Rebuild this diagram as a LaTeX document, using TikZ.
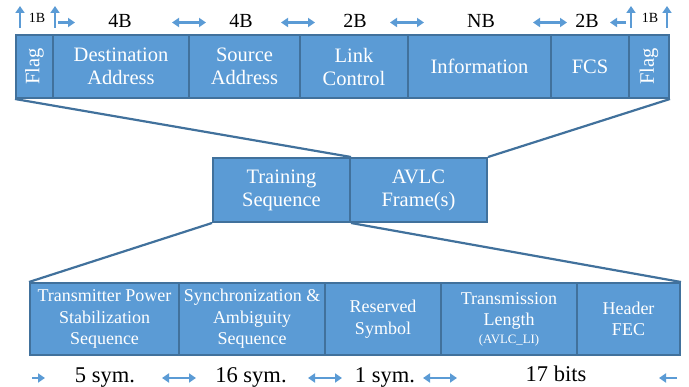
\documentclass[tikz,border=0pt]{standalone}
\usepackage{fontspec}
\setmainfont{Liberation Serif}
\usepackage{graphicx}
\usepackage{tikz}
\usetikzlibrary{arrows.meta}
\definecolor{fieldblue}{HTML}{5B9BD5}
\definecolor{edgeblue}{HTML}{41719C}
\tikzset{>=stealth}
\tikzset{zoomline/.style={draw=edgeblue, line width=2.2pt}}

\begin{document}
\begin{tikzpicture}[x=1pt, y=-1pt,
            field/.style={draw=edgeblue, fill=fieldblue, line width=2pt,
            text=white, align=center, inner sep=0pt, minimum width=#1},
            toprow/.style={minimum height=63pt, font=\fontsize{20.5}{23}\selectfont},
            midrow/.style={minimum height=64pt, font=\fontsize{20.5}{23}\selectfont},
            lowrow/.style={minimum height=72pt, font=\fontsize{18}{21.5}\selectfont},
            size/.style={font=\fontsize{20}{22}\selectfont, inner sep=0pt},
            smallsize/.style={font=\fontsize{14}{16}\selectfont, inner sep=0pt},
            sym/.style={font=\fontsize{22.5}{24}\selectfont, inner sep=0pt, anchor=base},
            dimarrow/.style={fieldblue, line width=2.2pt,
            >={Triangle[width=9pt,length=7pt]}}]
            \useasboundingbox (0,0) rectangle (689,387);
            %% AVLC frame
            \node[field=37pt, toprow] (flagL) at (34.5,66.5) {\rotatebox{90}{Flag}};
            \node[field=136pt, toprow] (dest) at (121,66.5) {Destination\\Address};
            \node[field=111pt, toprow] (src) at (244.5,66.5) {Source\\Address};
            \node[field=108pt, toprow] (lctl) at (354,66.5) {Link\\Control};
            \node[field=143pt, toprow] (info) at (479.5,66.5) {Information};
            \node[field=78pt, toprow] (fcs) at (590,66.5) {FCS};
            \node[field=40pt, toprow] (flagR) at (649,66.5) {\rotatebox{90}{Flag}};
            %% Burst
            \node[field=137pt, midrow] (train) at (281.5,190) {Training\\Sequence};
            \node[field=137pt, midrow] (avlc) at (418.5,190) {AVLC\\Frame(s)};
            %% Training sequence
            \node[field=149pt, lowrow] (tps) at (104.5,319) {Transmitter Power\\Stabilization\\Sequence};
            \node[field=146pt, lowrow] (sync) at (252,319) {Synchronization \&\\Ambiguity\\Sequence};
            \node[field=116pt, lowrow] (rsv) at (383,319) {Reserved\\Symbol};
            \node[field=136pt, lowrow] (tlen) at (509,319) {Transmission\\Length\\[-4pt]{\fontsize{12.8}{14}\selectfont (AVLC\_LI)}};
            \node[field=103pt, lowrow] (fec) at (628.5,319) {Header\\FEC};
            %% Expansion lines
            \draw[zoomline] (flagL.south west) -- (train.north east);
            \draw[zoomline] (flagR.south east) -- (avlc.north east);
            \draw[zoomline] (train.south west) -- (tps.north west);
            \draw[zoomline] (train.south east) -- (fec.north east);
            %% Field sizes (bytes)
            \node[smallsize] (s1) at (37,17.5) {1B};
            \node[size] (s2) at (120,21) {4B};
            \node[size] (s3) at (241,21) {4B};
            \node[size] (s4) at (355,21) {2B};
            \node[size] (s5) at (481,21) {NB};
            \node[size] (s6) at (587,21) {2B};
            \node[smallsize] (s7) at (650,17.5) {1B};
            \coordinate (u1) at (20,28);
            \coordinate (u2) at (55,28);
            \coordinate (u3) at (631,28);
            \coordinate (u4) at (667,28);
            \foreach \u in {u1,u2,u3,u4}
                \draw[dimarrow, ->] (\u) -- ++(0,-22);
            \coordinate (h1) at (58,22.5);
            \coordinate (h2) at (172,22.5);
            \coordinate (h3) at (281,22.5);
            \coordinate (h4) at (390,22.5);
            \coordinate (h5) at (533,22.5);
            \coordinate (h6) at (626,22.5);
            \draw[dimarrow, ->] (h1) -- ++(17,0);
            \foreach \h in {h2,h3,h4,h5}
                \draw[dimarrow, <->] (\h) -- ++(34,0);
            \draw[dimarrow, ->] (h6) -- ++(-16,0);
            %% Field sizes (symbols)
            \node[sym] (b1) at (105,383) {5 sym.};
            \node[sym] (b2) at (251,383) {16 sym.};
            \node[sym] (b3) at (385,383) {1 sym.};
            \node[sym] (b4) at (556,382) {17 bits};
            \coordinate (l1) at (32,378);
            \coordinate (l2) at (162,378);
            \coordinate (l3) at (308,378);
            \coordinate (l4) at (423,378);
            \coordinate (l5) at (677,378);
            \draw[dimarrow, ->] (l1) -- ++(13,0);
            \foreach \l in {l2,l3,l4}
                \draw[dimarrow, <->] (\l) -- ++(34,0);
            \draw[dimarrow, ->] (l5) -- ++(-18,0);
        \end{tikzpicture}
\end{document}
